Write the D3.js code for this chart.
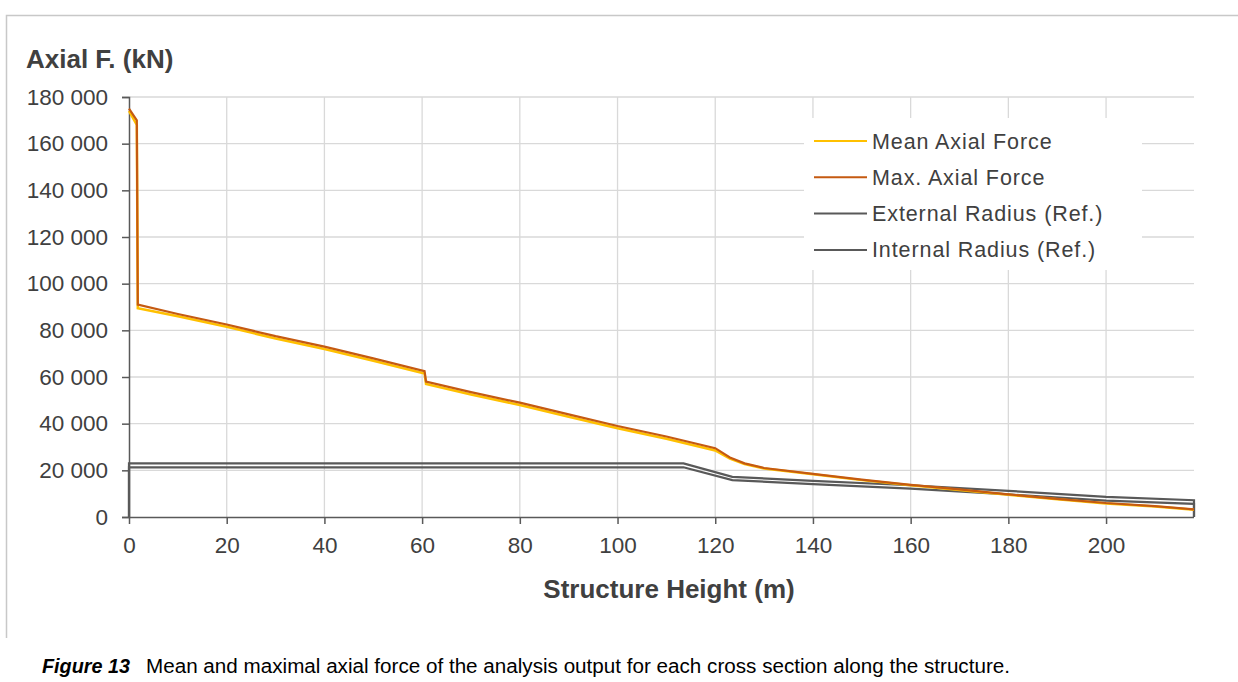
<!DOCTYPE html>
<html>
<head>
<meta charset="utf-8">
<script src="https://cdn.jsdelivr.net/npm/d3@7"></script>
<style>
  body { margin: 0; background: #fff; }
  svg { font-family: "Liberation Sans", Arial, sans-serif; }
</style>
</head>
<body>
<svg width="1238" height="682"></svg>
<script>
// heights along the structure (m)
var forceX = [0, 1.6, 1.8, 10, 20, 30, 40, 50, 60.5, 60.8, 70, 80, 90, 100, 110, 120, 123, 126, 130, 140, 150, 160, 170, 180, 190, 200, 210, 218];
var meanForce = [174000, 168000, 89500, 86000, 81500, 76500, 72000, 67000, 61500, 57000, 52500, 48000, 43000, 38000, 33500, 28500, 25000, 22700, 20800, 18300, 15800, 13600, 11600, 9500, 7600, 5800, 4500, 3100];
var maxForce = [175000, 170000, 91000, 87000, 82500, 77500, 73000, 68000, 62500, 58000, 53500, 49000, 44000, 39000, 34500, 29500, 25500, 23000, 21000, 18500, 16000, 13800, 11800, 9700, 7800, 6000, 4700, 3300];

var radiusX = [0, 0, 113.5, 123.5, 140, 160, 180, 200, 218, 218];
var extRadius = [0, 23000, 23000, 17200, 15500, 13600, 11200, 8600, 7200, 0];
var intRadius = [0, 21300, 21300, 15800, 14100, 12200, 9700, 7000, 5600, 0];

var yTicks = [0, 20000, 40000, 60000, 80000, 100000, 120000, 140000, 160000, 180000];
var xTicks = [0, 20, 40, 60, 80, 100, 120, 140, 160, 180, 200];

var seriesNames = ["Mean Axial Force", "Max. Axial Force", "External Radius (Ref.)", "Internal Radius (Ref.)"];
var seriesColors = ["#FFC000", "#C55A11", "#595959", "#595959"];

var svg = d3.select("svg");

var x = d3.scaleLinear().domain([0, 218]).range([129, 1194]);
var y = d3.scaleLinear().domain([0, 180000]).range([517, 97]);

// frame
svg.append("path")
    .attr("d", "M6.5,638 L6.5,15.5 L1238,15.5")
    .attr("fill", "none")
    .attr("stroke", "#c8c8c8")
    .attr("stroke-width", 1.5);

// grid
svg.append("g").selectAll("line").data(yTicks.slice(1)).enter().append("line")
    .attr("x1", 129).attr("x2", 1194)
    .attr("y1", function(d) { return y(d); }).attr("y2", function(d) { return y(d); })
    .attr("stroke", "#d9d9d9").attr("stroke-width", 1.3);
svg.append("g").selectAll("line").data(xTicks.slice(1)).enter().append("line")
    .attr("x1", function(d) { return x(d); }).attr("x2", function(d) { return x(d); })
    .attr("y1", 97).attr("y2", 517)
    .attr("stroke", "#d9d9d9").attr("stroke-width", 1.3);

// axes
var fmt = function(d) { return d3.format(",")(d).replace(/,/g, " "); };
var yAxis = svg.append("g").attr("transform", "translate(129,0)")
    .call(d3.axisLeft(y).tickValues(yTicks).tickSize(7).tickPadding(14).tickFormat(fmt));
var xAxis = svg.append("g").attr("transform", "translate(0,517)")
    .call(d3.axisBottom(x).tickValues(xTicks).tickSize(7).tickPadding(13).tickFormat(d3.format("d")));
[yAxis, xAxis].forEach(function(a) {
    a.select(".domain").attr("stroke", "#595959").attr("stroke-width", 1.5);
    a.selectAll(".tick line").attr("stroke", "#595959").attr("stroke-width", 1.5);
    a.selectAll("text").attr("fill", "#404040").style("font-size", "22.5px")
        .style("font-family", "'Liberation Sans', Arial, sans-serif");
});
xAxis.select(".domain").attr("d", "M129,0.5H1194");

// titles
svg.append("text").attr("x", 26).attr("y", 68)
    .attr("fill", "#404040").style("font-size", "26px").style("font-weight", "bold")
    .text("Axial F. (kN)");
svg.append("text").attr("x", 669).attr("y", 598).attr("text-anchor", "middle")
    .attr("fill", "#404040").style("font-size", "26px").style("font-weight", "bold")
    .text("Structure Height (m)");

// lines
var line = d3.line().x(function(d) { return x(d[0]); }).y(function(d) { return y(d[1]); });
function pairs(xs, ys) { return xs.map(function(v, i) { return [v, ys[i]]; }); }

var lines = svg.append("g");
lines.append("path").datum(pairs(radiusX, extRadius))
    .attr("d", line).attr("fill", "none").attr("stroke", seriesColors[2]).attr("stroke-width", 2.2);
lines.append("path").datum(pairs(radiusX, intRadius))
    .attr("d", line).attr("fill", "none").attr("stroke", seriesColors[3]).attr("stroke-width", 2.2);
lines.append("path").datum(pairs(forceX, meanForce))
    .attr("d", line).attr("fill", "none").attr("stroke", seriesColors[0]).attr("stroke-width", 2.5);
lines.append("path").datum(pairs(forceX, maxForce))
    .attr("d", line).attr("fill", "none").attr("stroke", seriesColors[1]).attr("stroke-width", 2.2);

// legend
var legend = svg.append("g");
legend.append("rect").attr("x", 804).attr("y", 118).attr("width", 338).attr("height", 152).attr("fill", "#fff");
var item = legend.selectAll("g").data(seriesNames).enter().append("g")
    .attr("transform", function(d, i) { return "translate(814," + (141 + i * 36.3) + ")"; });
item.append("line").attr("x1", 0).attr("x2", 53).attr("y1", 0).attr("y2", 0)
    .attr("stroke", function(d, i) { return seriesColors[i]; }).attr("stroke-width", 2);
item.append("text").attr("x", 58).attr("y", 0).attr("dy", "0.35em")
    .attr("fill", "#404040").style("font-size", "21.5px").style("letter-spacing", "0.9px")
    .text(function(d) { return d; });

// caption
svg.append("text").attr("x", 42).attr("y", 673).style("font-size", "19.5px").attr("fill", "#000")
    .style("font-weight", "bold").style("font-style", "italic")
    .attr("textLength", 88).attr("lengthAdjust", "spacingAndGlyphs")
    .text("Figure 13");
svg.append("text").attr("x", 146).attr("y", 673).style("font-size", "19.5px").attr("fill", "#000")
    .attr("textLength", 864).attr("lengthAdjust", "spacingAndGlyphs")
    .text("Mean and maximal axial force of the analysis output for each cross section along the structure.");
</script>
</body>
</html>
